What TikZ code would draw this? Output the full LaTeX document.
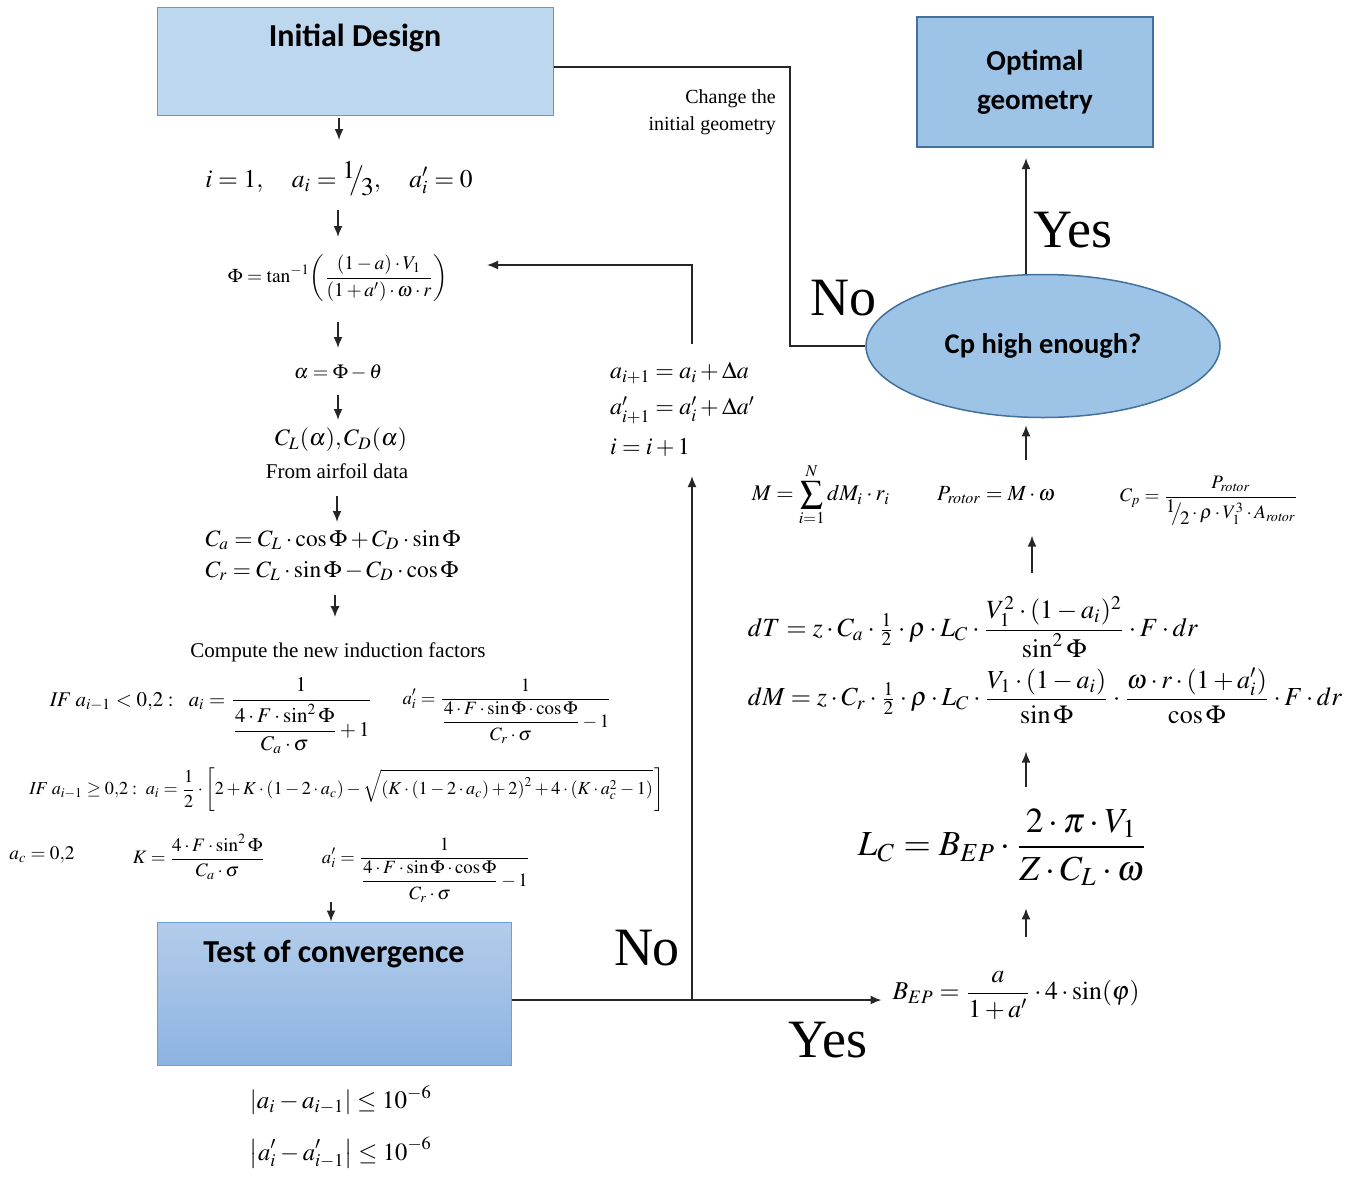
\documentclass[tikz,border=0pt]{standalone}
\usepackage{amsmath}
\usepackage{mathptmx}
\usepackage[no-math]{fontspec}
\setmainfont{Liberation Serif}
\newfontfamily\lblfont{Carlito}
\usetikzlibrary{arrows.meta,shapes.geometric}
\definecolor{initfill}{HTML}{BDD7EE}
\definecolor{initdraw}{HTML}{5B9BD5}
\definecolor{testtop}{HTML}{B3CDEB}
\definecolor{testbot}{HTML}{8DB3E2}
\definecolor{testdraw}{HTML}{6A9FDC}
\definecolor{optfill}{HTML}{9DC3E6}
\definecolor{optdraw}{HTML}{41719C}
\newcommand\fw[2]{\resizebox{#1pt}{!}{$\displaystyle #2$}}
\newcommand\sfr[2]{\raisebox{0.35em}{$#1$}\!\!\big/\!\raisebox{-0.3em}{$#2$}}
\begin{document}
\begin{tikzpicture}[x=1pt,y=-1pt,
  ln/.style={line width=1.5pt, draw=black!85},
  arr/.style={ln, line width=1.7pt, -{Latex[length=11pt,width=9pt]}},
  eqn/.style={inner sep=0pt, outer sep=0pt, anchor=center},
  upde/.style={inner sep=0pt, outer sep=0pt, anchor=west, font=\fontsize{24}{28}\selectfont},
  txt/.style={inner sep=0pt, font=\fontsize{21}{24}\selectfont},
  big/.style={inner sep=0pt, font=\fontsize{54}{60}\selectfont},
  lbl/.style={font=\lblfont\bfseries\fontsize{32}{35}\selectfont},
  initbox/.style={rectangle, draw=initdraw, line width=1pt, fill=initfill, minimum width=396pt, minimum height=108pt, inner sep=0pt},
  testbox/.style={rectangle, draw=testdraw, line width=1pt, top color=testtop, bottom color=testbot, minimum width=354pt, minimum height=143pt, inner sep=0pt},
  optbox/.style={rectangle, draw=optdraw, line width=2pt, fill=optfill, minimum width=236pt, minimum height=130pt, inner sep=0pt, align=center, font=\lblfont\bfseries\fontsize{29}{39}\selectfont},
  decis/.style={ellipse, draw=optdraw, line width=1.5pt, fill=optfill, minimum width=354pt, minimum height=143pt, inner sep=0pt, font=\lblfont\bfseries\fontsize{28.5}{30}\selectfont}
]
\useasboundingbox[fill=white] (0,0) rectangle (1357,1176);

% boxes
\node[initbox, label={[lbl, anchor=center, yshift=-31pt]north:Initial Design}] (init) at (355,61) {};
\node[testbox, label={[lbl, anchor=center, yshift=-33pt]north:Test of convergence}] (test) at (334,993.5) {};
\node[optbox] (opt) at (1035,82) {Optimal\\geometry};
\node[decis] (cp) at (1043,346) {Cp high enough?};

% left column
\node[eqn, minimum height=42pt] (eq1) at (339,179) {\fw{267}{i=1,\quad a_i=\sfr13,\quad a'_i=0}};
\node[eqn, minimum height=56pt] (phi) at (338,278) {\fw{220}{\Phi=\tan^{-1}\!\left(\frac{(1-a)\cdot V_1}{(1+a')\cdot\omega\cdot r}\right)}};
\node[eqn, minimum height=20pt] (alpha) at (338,372) {\fw{88}{\alpha=\Phi-\theta}};
\node[eqn, minimum height=24pt] (cl) at (341,440) {\fw{132}{C_L(\alpha),C_D(\alpha)}};
\node[txt] (airfoil) at (337,471) {From airfoil data};
\node[eqn, minimum height=20pt] (ca) at (333,540) {\fw{255}{C_a=C_L\cdot\cos\Phi+C_D\cdot\sin\Phi}};
\node[eqn, minimum height=20pt] (cr) at (332,571) {\fw{253}{C_r=C_L\cdot\sin\Phi-C_D\cdot\cos\Phi}};
\node[txt] (compute) at (338,652) {Compute the new induction factors};
\node[eqn] (if1) at (211,716) {\fw{322}{\mathit{IF}\ a_{i-1}<0{,}2:\ \ a_i=\frac{1}{\dfrac{4\cdot F\cdot\sin^2\Phi}{C_a\cdot\sigma}+1}}};
\node[eqn] (if1b) at (507,711) {\fw{209}{a'_i=\frac{1}{\dfrac{4\cdot F\cdot\sin\Phi\cdot\cos\Phi}{C_r\cdot\sigma}-1}}};
\node[eqn] (if2) at (347,790) {\fw{635}{\mathit{IF}\ a_{i-1}\ge0{,}2:\ a_i=\frac12\cdot\left[2+K\cdot(1-2\cdot a_c)-\sqrt{\left(K\cdot(1-2\cdot a_c)+2\right)^2+4\cdot\left(K\cdot a_c^2-1\right)}\,\right]}};
\node[eqn] (ac) at (42,855) {\fw{65}{a_c=0{,}2}};
\node[eqn] (kk) at (199,857) {\fw{132}{K=\frac{4\cdot F\cdot\sin^2\Phi}{C_a\cdot\sigma}}};
\node[eqn] (ai2) at (426,870) {\fw{208}{a'_i=\frac{1}{\dfrac{4\cdot F\cdot\sin\Phi\cdot\cos\Phi}{C_r\cdot\sigma}-1}}};
\node[eqn] (conv1) at (341,1100) {\fw{182}{\left|a_i-a_{i-1}\right|\le10^{-6}}};
\node[eqn] (conv2) at (341,1153) {\fw{182}{\left|a'_i-a'_{i-1}\right|\le10^{-6}}};

% middle
\node[upde] (upd1) at (610,373) {$a_{i+1}=a_i+\Delta a$};
\node[upde] (upd2) at (610,410) {$a'_{i+1}=a'_i+\Delta a'$};
\node[upde] (upd3) at (610,447) {$i=i+1$};
\node[txt, align=right, anchor=east, font=\fontsize{20}{26.5}\selectfont] (chg) at (776,112) {Change the\\initial geometry};

% right column
\node[eqn] (msum) at (821,495) {\fw{138}{M=\sum_{i=1}^{N}dM_i\cdot r_i}};
\node[eqn, minimum height=24pt] (prot) at (996,495) {\fw{118}{P_{\mathit{rotor}}=M\cdot\omega}};
\node[eqn] (cpeq) at (1209,501) {\fw{178}{C_p=\frac{P_{\mathit{rotor}}}{\sfr12\cdot\rho\cdot V_1^3\cdot A_{\mathit{rotor}}}}};
\node[eqn, minimum height=59pt] (dT) at (973,627) {\fw{450}{dT=z\cdot C_a\cdot\tfrac12\cdot\rho\cdot L_C\cdot\frac{V_1^2\cdot(1-a_i)^2}{\sin^2\Phi}\cdot F\cdot dr}};
\node[eqn, minimum height=57pt] (dM) at (1045,696) {\fw{594}{dM=z\cdot C_r\cdot\tfrac12\cdot\rho\cdot L_C\cdot\frac{V_1\cdot(1-a_i)}{\sin\Phi}\cdot\frac{\omega\cdot r\cdot(1+a'_i)}{\cos\Phi}\cdot F\cdot dr}};
\node[eqn, minimum height=70pt] (lc) at (1003,847) {\fw{290}{L_C=B_{EP}\cdot\frac{2\cdot\pi\cdot V_1}{Z\cdot C_L\cdot\omega}}};
\node[eqn, minimum height=54pt] (bep) at (1016,995) {\fw{247}{B_{EP}=\frac{a}{1+a'}\cdot4\cdot\sin(\varphi)}};

% labels
\node[big] (no1) at (843,298) {No};
\node[big] (yes1) at (1073,230) {Yes};
\node[big] (no2) at (647,948) {No};
\node[big] (yes2) at (828,1040) {Yes};

\coordinate (rc) at (1026,0);
\coordinate (rc2) at (1032,0);
\coordinate (jx) at (692,0);
\coordinate (tx) at ([yshift=-6.5pt]test.east);

% left column arrows
\draw[arr, shorten <=2pt, shorten >=18pt] (init.south -| eq1.north) -- (eq1.north);
\draw[arr, shorten <=10pt, shorten >=13pt] (eq1.south -| phi.north) -- (phi.north);
\draw[arr, shorten <=16pt, shorten >=14pt] (phi.south -| alpha.north) -- (alpha.north);
\draw[arr, shorten <=13pt, shorten >=8pt] (alpha.south) -- (alpha.south |- cl.north);
\draw[arr, shorten <=17pt, shorten >=8pt] (airfoil.south) -- (airfoil.south |- ca.north);
\draw[arr, shorten <=14pt, shorten >=25pt] (cr.south -| 335,0) -- (compute.north -| 335,0);
\draw[arr] ([xshift=-3pt,yshift=20pt]test.north) -- ([xshift=-3pt]test.north);

% loops
\draw[ln] ([yshift=-6pt]init.east) -| (790,0 |- cp.west) -- (cp.west);
\draw[arr, shorten >=11pt] (tx) -- (tx -| bep.west);
\draw[arr, shorten >=20pt] (tx -| jx) -- (upd3.south -| jx);
\draw[arr, shorten <=18pt, shorten >=39pt] (upd1.north -| jx) |- ([yshift=13pt]phi.east);

% right column arrows
\draw[arr, shorten <=31pt, shorten >=23pt] (bep.north -| rc) -- (lc.south -| rc);
\draw[arr, shorten <=22pt, shorten >=27pt] (lc.north -| rc) -- (dM.south -| rc);
\draw[arr, shorten <=23pt, shorten >=10pt] (dT.north -| rc2) -- (cpeq.south -| rc2);
\draw[arr, shorten <=23pt, shorten >=7pt] (prot.north -| rc) -- (cp.south -| rc);
\draw[arr, shorten >=10pt] (cp.north -| rc) -- (opt.south -| rc);
\end{tikzpicture}
\end{document}
